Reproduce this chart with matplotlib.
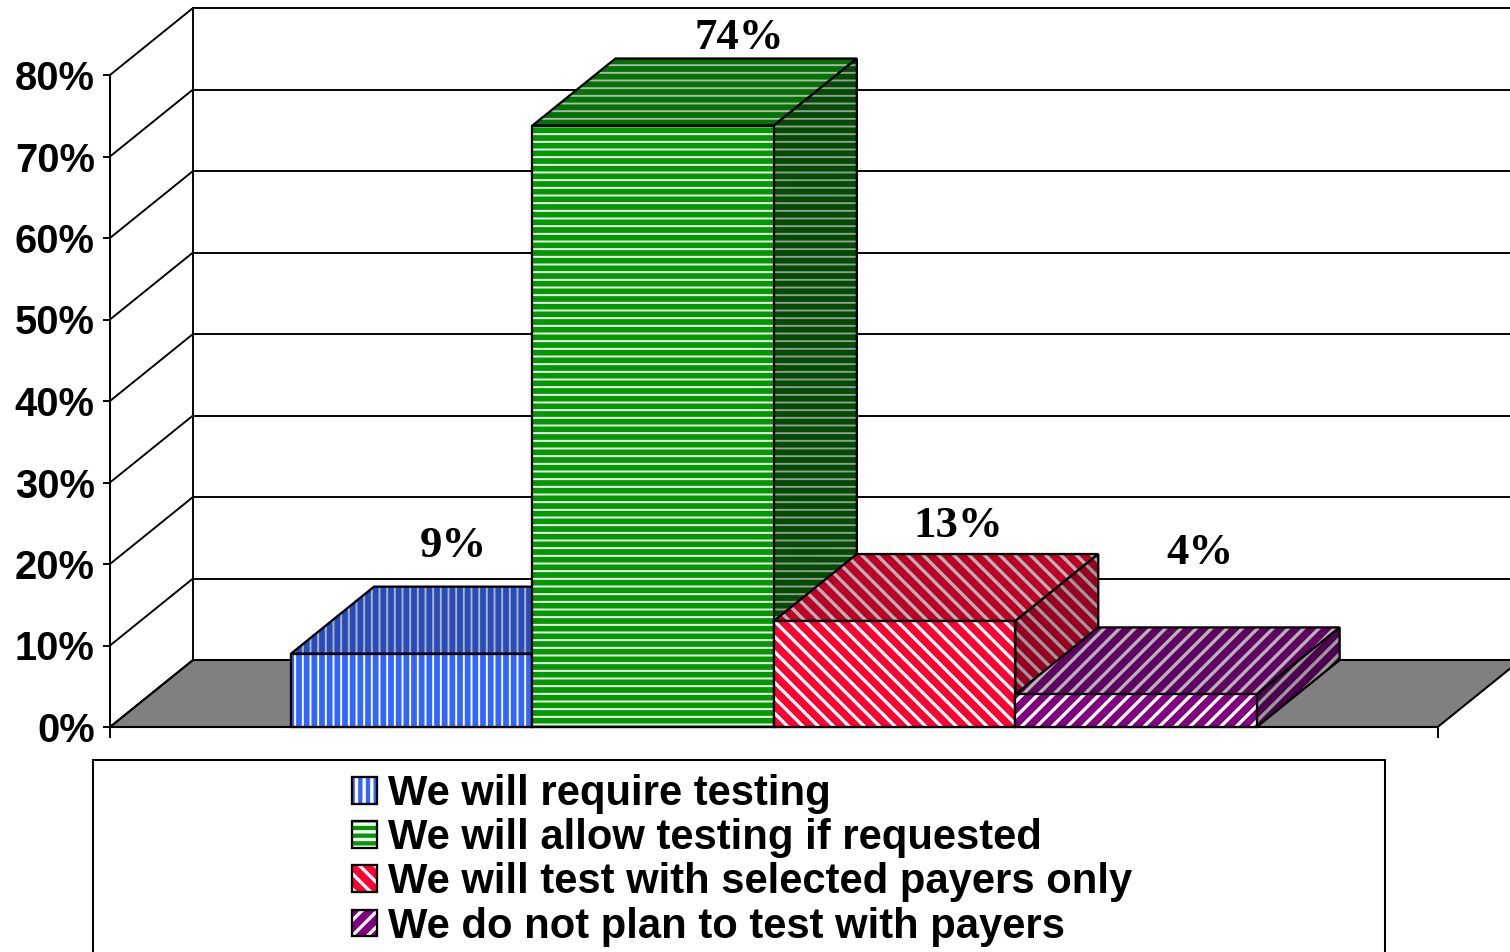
import matplotlib
matplotlib.use('Agg')
import matplotlib.pyplot as plt
from matplotlib.patches import Polygon, Patch, Rectangle
from matplotlib.legend_handler import HandlerTuple

# DATA
labels = ['We will require testing', 'We will allow testing if requested',
          'We will test with selected payers only', 'We do not plan to test with payers']
values = [9, 73.8, 13, 4]
y_ticks = [0, 10, 20, 30, 40, 50, 60, 70, 80]

# STYLE
front_colors = ['#3366ff', '#009900', '#ff0033', '#800080']
top_colors = ['#264cbf', '#007300', '#bf0026', '#600060']
side_colors = ['#1a3380', '#004d00', '#99001f', '#4d004d']
hatches = ['||', '--', '\\\\', '//']
stripe_widths = [1.5, 1.5, 2.6, 2.6]
label_offsets = [(42, 108), (86, 88), (64, 95), (64, 141)]

W, H, DPI = 1510, 952, 92
PX_X = 241.4  # pixels per category slot
PX_Y = 652 / 80
DX = 83 / PX_X
DY = 67 / PX_Y
FIRST = 0.75
BACK_END = 5.5
X_MAX = 1400 / PX_X

plt.rcParams['font.family'] = ['Liberation Sans', 'DejaVu Sans']
fig = plt.figure(figsize=(W / DPI, H / DPI), dpi=DPI)
ax = fig.add_axes([110 / W, (H - 727) / H, 1400 / W, 652 / H])
ax.set_xlim(0, X_MAX)
ax.set_ylim(0, 80)
ax.patch.set_visible(False)


def face(pts, color, hatch=None, stripe='white', width=1.5, z=3):
    plt.rcParams['hatch.linewidth'] = width
    ax.add_patch(Polygon(pts, closed=True, facecolor=color, edgecolor=stripe if hatch else 'none',
                         hatch=hatch, lw=0, clip_on=False, zorder=z))
    ax.add_patch(Polygon(pts, closed=True, fill=False, edgecolor='black', lw=1.8,
                         clip_on=False, zorder=z))


# floor and walls
ax.add_patch(Polygon([(0, 0), (DX, DY), (BACK_END + DX, DY), (BACK_END, 0)],
                     closed=True, facecolor='#808080', edgecolor='black', lw=1.6, clip_on=False, zorder=1))
for t in y_ticks:
    ax.plot([0, DX], [t, t + DY], color='black', lw=1.5, clip_on=False, zorder=2)
    ax.plot([DX, X_MAX + DX], [t + DY, t + DY], color='black', lw=1.5, clip_on=False, zorder=2)
ax.plot([DX, DX], [DY, 80 + DY], color='black', lw=1.5, clip_on=False, zorder=2)

# bars, left to right so that each one covers the previous
for i, v in enumerate(values):
    x0 = FIRST + i
    x1 = x0 + 1
    z = 3 + i
    face([(x0, v), (x1, v), (x1 + DX, v + DY), (x0 + DX, v + DY)], top_colors[i], hatches[i], '#b4b4b4', stripe_widths[i], z)
    face([(x1, 0), (x1 + DX, DY), (x1 + DX, v + DY), (x1, v)], side_colors[i], hatches[i], '#9a9a9a', stripe_widths[i], z)
    face([(x0, 0), (x1, 0), (x1, v), (x0, v)], front_colors[i], hatches[i], 'white', stripe_widths[i], z)
    ax.annotate('%d%%' % round(v), (x0 + 0.5, v), xytext=label_offsets[i], textcoords='offset pixels',
                ha='center', va='center', fontsize=35, fontweight='bold',
                family=['Liberation Serif', 'DejaVu Serif'], zorder=10, annotation_clip=False)

# axes
for s in ['top', 'right']:
    ax.spines[s].set_visible(False)
ax.spines['bottom'].set_bounds(0, BACK_END)
for s in ['left', 'bottom']:
    ax.spines[s].set_linewidth(1.6)
    ax.spines[s].set_zorder(9)
ax.set_yticks(y_ticks)
ax.set_yticklabels(['%d%%' % t for t in y_ticks], fontsize=31.2, fontweight='bold')
ax.tick_params(axis='y', length=5.5, width=1.5, pad=6.5)
ax.set_xticks([0, BACK_END])
ax.set_xticklabels(['', ''])
ax.tick_params(axis='x', length=8.5, width=1.5)

# legend
fig.add_artist(Rectangle((93 / W, -0.01), (1385 - 93) / W, (H - 760) / H + 0.01, transform=fig.transFigure,
                         facecolor='white', edgecolor='black', lw=1.6))
handles = []
for i in range(4):
    plt.rcParams['hatch.linewidth'] = stripe_widths[i]
    handles.append((Patch(facecolor=front_colors[i], edgecolor='white', hatch=hatches[i], lw=0),
                    Patch(fill=False, edgecolor='black', lw=1.8)))
fs = 32.7
leg = fig.legend(handles, labels, handler_map={tuple: HandlerTuple(ndivide=1, pad=0)},
                 loc='upper left', bbox_to_anchor=(352 / W, (H - 774) / H), frameon=False,
                 prop={'weight': 'bold', 'size': fs}, borderpad=0, borderaxespad=0,
                 handlelength=0.6, handleheight=0.6, handletextpad=0.27, labelspacing=0.1)
leg.set_zorder(20)

fig.savefig('out.png', dpi=DPI)
